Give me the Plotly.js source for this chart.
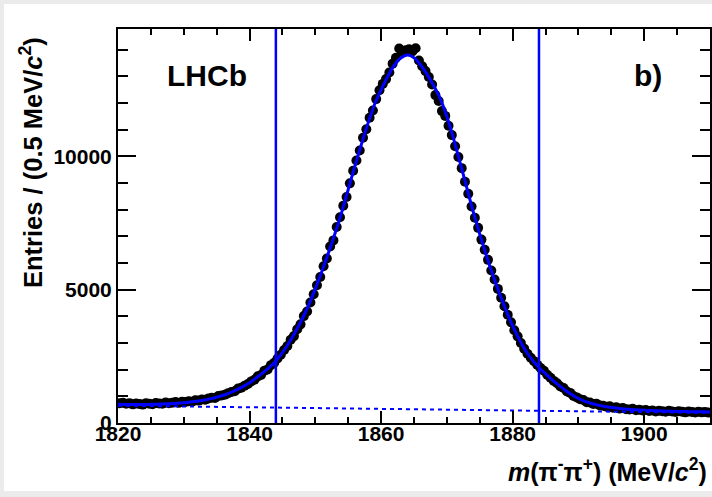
<!DOCTYPE html>
<html>
<head>
<meta charset="utf-8">
<script src="https://cdn.plot.ly/plotly-3.0.1.min.js"></script>
<style>
  html, body { margin: 0; padding: 0; background: #ebebeb; width: 712px; height: 497px; overflow: hidden; }
  #chart { position: absolute; left: 4px; top: 4px; width: 708px; height: 487px; background: #ffffff; }
</style>
</head>
<body>
<div id="chart"></div>
<script>
// ---- data ----
const massBins = [
 1820.25,1820.75,1821.25,1821.75,1822.25,1822.75,1823.25,1823.75,1824.25,1824.75,
 1825.25,1825.75,1826.25,1826.75,1827.25,1827.75,1828.25,1828.75,1829.25,1829.75,
 1830.25,1830.75,1831.25,1831.75,1832.25,1832.75,1833.25,1833.75,1834.25,1834.75,
 1835.25,1835.75,1836.25,1836.75,1837.25,1837.75,1838.25,1838.75,1839.25,1839.75,
 1840.25,1840.75,1841.25,1841.75,1842.25,1842.75,1843.25,1843.75,1844.25,1844.75,
 1845.25,1845.75,1846.25,1846.75,1847.25,1847.75,1848.25,1848.75,1849.25,1849.75,
 1850.25,1850.75,1851.25,1851.75,1852.25,1852.75,1853.25,1853.75,1854.25,1854.75,
 1855.25,1855.75,1856.25,1856.75,1857.25,1857.75,1858.25,1858.75,1859.25,1859.75,
 1860.25,1860.75,1861.25,1861.75,1862.25,1862.75,1863.25,1863.75,1864.25,1864.75,
 1865.25,1865.75,1866.25,1866.75,1867.25,1867.75,1868.25,1868.75,1869.25,1869.75,
 1870.25,1870.75,1871.25,1871.75,1872.25,1872.75,1873.25,1873.75,1874.25,1874.75,
 1875.25,1875.75,1876.25,1876.75,1877.25,1877.75,1878.25,1878.75,1879.25,1879.75,
 1880.25,1880.75,1881.25,1881.75,1882.25,1882.75,1883.25,1883.75,1884.25,1884.75,
 1885.25,1885.75,1886.25,1886.75,1887.25,1887.75,1888.25,1888.75,1889.25,1889.75,
 1890.25,1890.75,1891.25,1891.75,1892.25,1892.75,1893.25,1893.75,1894.25,1894.75,
 1895.25,1895.75,1896.25,1896.75,1897.25,1897.75,1898.25,1898.75,1899.25,1899.75,
 1900.25,1900.75,1901.25,1901.75,1902.25,1902.75,1903.25,1903.75,1904.25,1904.75,
 1905.25,1905.75,1906.25,1906.75,1907.25,1907.75,1908.25,1908.75,1909.25,1909.75
];
const entries = [
 740,760,720,745,700,730,715,690,740,720,
 705,750,735,720,770,745,760,790,755,800,
 790,815,800,850,840,880,870,920,950,935,
 1010,1030,1060,1120,1160,1190,1290,1320,1400,1460,
 1560,1620,1750,1800,1960,2010,2170,2260,2420,2560,
 2740,2890,3120,3260,3520,3700,4010,4180,4520,4830,
 5170,5480,5880,6170,6620,6850,7350,7720,8150,8480,
 8990,9460,9850,10220,10700,11020,11450,11720,12150,12480,
 12720,12900,13150,13480,13700,14050,13920,13980,14020,13940,
 14060,13600,13380,13200,12980,12700,12300,12080,11700,11520,
 11150,10800,10380,9980,9560,9050,8600,8120,7700,7320,
 6880,6500,6120,5720,5380,5030,4700,4380,4060,3780,
 3480,3250,3000,2790,2600,2450,2320,2180,2060,1960,
 1810,1700,1580,1490,1370,1310,1180,1130,1010,960,
 890,860,780,770,710,720,660,650,610,630,
 570,590,540,560,520,510,530,480,500,470,
 490,450,470,430,460,440,420,455,430,410,
 445,420,400,430,415,395,420,400,410,390
];
const fitMass = [
 1820,1821,1822,1823,1824,1825,1826,1827,1828,1829,
 1830,1831,1832,1833,1834,1835,1836,1837,1838,1839,
 1840,1841,1842,1843,1844,1845,1846,1847,1848,1849,
 1850,1851,1852,1853,1854,1855,1856,1857,1858,1859,
 1860,1861,1862,1863,1864,1865,1866,1867,1868,1869,
 1870,1871,1872,1873,1874,1875,1876,1877,1878,1879,
 1880,1881,1882,1883,1884,1885,1886,1887,1888,1889,
 1890,1891,1892,1893,1894,1895,1896,1897,1898,1899,
 1900,1901,1902,1903,1904,1905,1906,1907,1908,1909,1910
];
const fitTotal = [
 700,695,690,690,695,700,705,715,725,740,
 760,785,815,855,905,965,1040,1130,1240,1365,
 1510,1690,1880,2090,2330,2640,3010,3430,3900,4430,
 5030,5690,6390,7120,7900,8760,9630,10450,11240,11950,
 12500,13000,13420,13690,13800,13700,13430,13070,12650,12160,
 11500,10680,9780,8850,7930,7080,6280,5540,4860,4220,
 3640,3130,2700,2360,2080,1840,1620,1420,1230,1060,
 920,810,730,670,620,580,550,525,505,490,
 478,467,457,449,442,436,431,426,422,418,414
];
const bgMass = [1820, 1910];
const bgValues = [650, 380];
const signalWindow = [1844, 1884];
const xRange = [1820, 1910];
const yRange = [0, 14780];

// ---- drawing ----
const FONT = '"Liberation Sans", Arial, Helvetica, sans-serif';
const BLUE = '#0000ff';

const traces = [
  { x: massBins, y: entries, type: 'scatter', mode: 'markers',
    marker: { color: '#000000', size: 10 }, hoverinfo: 'skip', showlegend: false },
  { x: fitMass, y: fitTotal, type: 'scatter', mode: 'lines',
    line: { color: BLUE, width: 3, shape: 'spline', smoothing: 0.6 }, hoverinfo: 'skip', showlegend: false },
  { x: bgMass, y: bgValues, type: 'scatter', mode: 'lines',
    line: { color: BLUE, width: 2, dash: '4px,4px' }, hoverinfo: 'skip', showlegend: false }
];

const shapes = signalWindow.map(v => ({
  type: 'line', xref: 'x', yref: 'paper', x0: v, x1: v, y0: 0, y1: 1,
  line: { color: BLUE, width: 2.5 }, layer: 'above'
}));

// plot area on page: x 118..710, y 29..423 ; div offset (4,4)
const W = 708, H = 487;
const L = 114, R = 2, T = 25, B = 68;
const pw = W - L - R, ph = H - T - B;
const px = p => (p - 4 - L) / pw;      // page x -> paper
const py = p => (H - B - (p - 4)) / ph; // page y -> paper

const layout = {
  width: W, height: H,
  margin: { l: L, r: R, t: T, b: B, pad: 0 },
  paper_bgcolor: '#ffffff', plot_bgcolor: '#ffffff',
  font: { family: FONT, color: '#000000' },
  showlegend: false,
  xaxis: {
    range: xRange, tick0: 1820, dtick: 20, ticks: 'inside', ticklen: 12, tickwidth: 2,
    tickcolor: '#000', showline: true, linecolor: '#000', linewidth: 2, mirror: 'ticks',
    showgrid: false, zeroline: false, tickformat: 'd', ticklabelstandoff: -9,
    tickfont: { family: FONT, size: 21, weight: 700, color: '#000' },
    minor: { dtick: 5, ticks: 'inside', ticklen: 6, tickwidth: 2, tickcolor: '#000', showgrid: false }
  },
  yaxis: {
    range: yRange, tick0: 0, dtick: 5000, ticks: 'inside', ticklen: 18, tickwidth: 2,
    tickcolor: '#000', showline: true, linecolor: '#000', linewidth: 2, mirror: 'ticks',
    showgrid: false, zeroline: false, tickformat: 'd',
    tickfont: { family: FONT, size: 21, weight: 700, color: '#000' },
    minor: { dtick: 1000, ticks: 'inside', ticklen: 10, tickwidth: 2, tickcolor: '#000', showgrid: false }
  },
  shapes: shapes,
  annotations: [
    { text: 'LHCb', xref: 'paper', yref: 'paper', x: px(165), y: py(76),
      xanchor: 'left', yanchor: 'middle', showarrow: false,
      font: { family: FONT, size: 30, weight: 700, color: '#000' } },
    { text: 'b)', xref: 'paper', yref: 'paper', x: px(632), y: py(76),
      xanchor: 'left', yanchor: 'middle', showarrow: false,
      font: { family: FONT, size: 30, weight: 700, color: '#000' } },
    { text: 'Entries / (0.5 MeV/<i>c</i><sup>2</sup>)', xref: 'paper', yref: 'paper',
      x: px(31), y: py(163), xanchor: 'center', yanchor: 'middle', textangle: -90, showarrow: false,
      font: { family: FONT, size: 25.5, weight: 700, color: '#000' } },
    { text: '<i>m</i>(π<sup>-</sup>π<sup>+</sup>) (MeV/<i>c</i><sup>2</sup>)', xref: 'paper', yref: 'paper',
      x: px(709), y: py(470), xanchor: 'right', yanchor: 'middle', showarrow: false,
      font: { family: FONT, size: 25, weight: 700, color: '#000' } }
  ]
};

Plotly.newPlot('chart', traces, layout, { staticPlot: true, displayModeBar: false });
</script>
</body>
</html>
